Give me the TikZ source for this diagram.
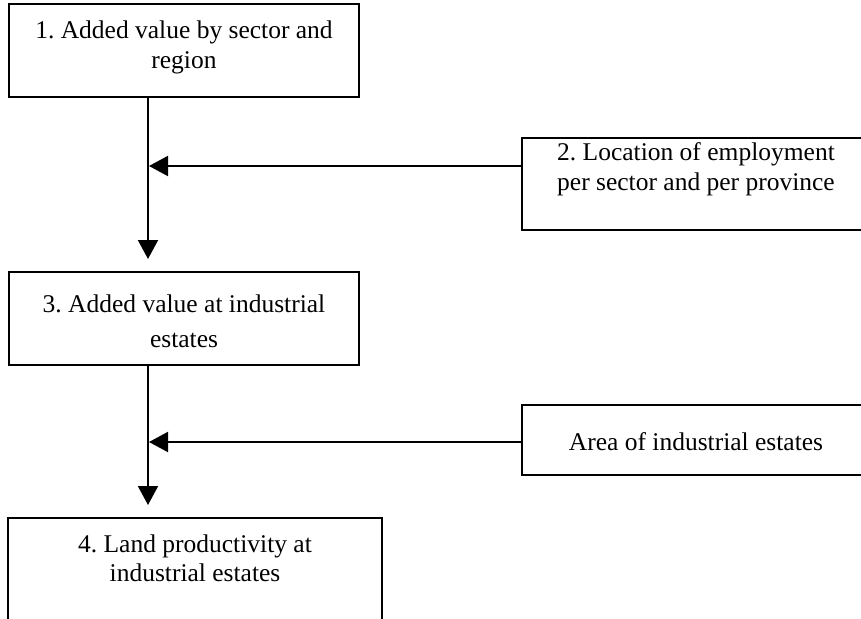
\documentclass[tikz,border=0pt]{standalone}
\usepackage{fontspec}
\setmainfont{Liberation Serif}
\frenchspacing
\usetikzlibrary{arrows.meta,calc}
\tikzset{
  boxnode/.style={draw=black, line width=2pt, rectangle, inner sep=0pt, fill=none},
  txtnode/.style={inner sep=0pt, align=center, anchor=base, font=\fontsize{25.5}{29.5}\selectfont},
  conn/.style={draw=black, line width=2pt, -{Triangle[length=19pt,width=20pt]}},
  plain/.style={draw=black, line width=2pt}
}
\begin{document}
\begin{tikzpicture}[x=1pt,y=-1pt]
\useasboundingbox (0,0) rectangle (861,618);
\clip (0,0) rectangle (861,618);
% boxes
\node[boxnode, minimum width=350pt, minimum height=93pt] (b1) at (184,50.5) {};
\node[boxnode, minimum width=349pt, minimum height=92pt] (b2) at (696.5,184) {};
\node[boxnode, minimum width=350pt, minimum height=93pt] (b3) at (184,318.5) {};
\node[boxnode, minimum width=349pt, minimum height=70pt] (ba) at (696.5,440) {};
\node[boxnode, minimum width=374pt, minimum height=130pt] (b4) at (195,583) {};
% texts (anchored at the baseline of their last line)
\node[txtnode] (t1) at (184,68.5) {1. Added value by sector and\\region};
\node[txtnode] (t2) at (696,190) {2. Location of employment\\per sector and per province};
\node[txtnode, font=\fontsize{25.5}{35}\selectfont] (t3) at (184,347) {3. Added value at industrial\\estates};
\node[txtnode] (ta) at (696,450) {Area of industrial estates};
\node[txtnode] (t4) at (195,581.5) {4. Land productivity at\\industrial estates};
% connector points
\coordinate (v1) at (148,259);
\coordinate (h1) at (149,166);
\coordinate (v2) at (148,505);
\coordinate (h2) at (149,442);
% connectors
\draw[conn] (b1.south -| v1) -- (v1);
\draw[conn] (b2.west |- h1) -- (h1);
\draw[conn] (b3.south -| v2) -- (v2);
\draw[conn] (ba.west |- h2) -- (h2);
\end{tikzpicture}
\end{document}
